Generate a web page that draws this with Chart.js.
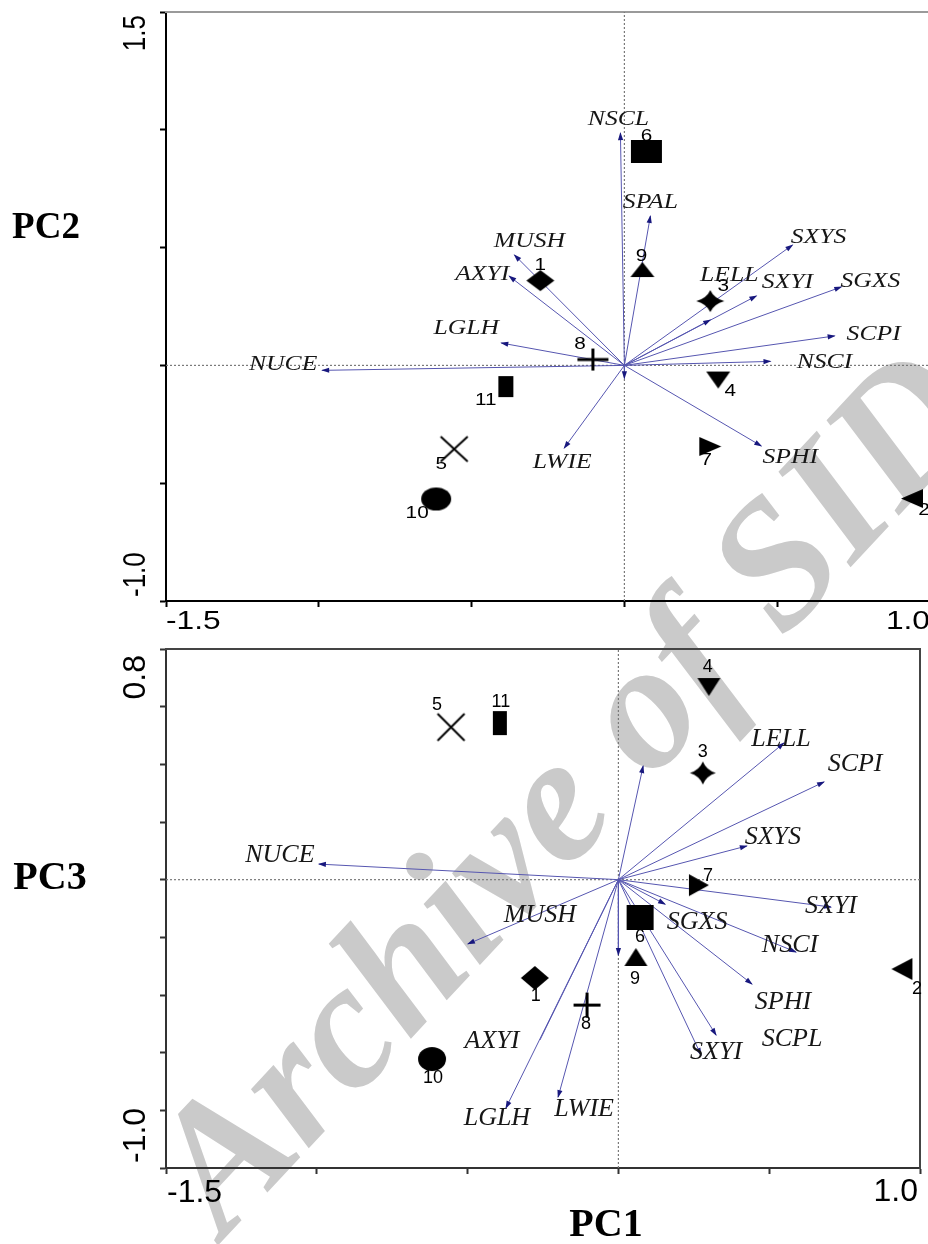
<!DOCTYPE html>
<html>
<head>
<meta charset="utf-8">
<script src="https://cdn.jsdelivr.net/npm/chart.js@4.4.1/dist/chart.umd.min.js"></script>
<style>
html, body { margin: 0; padding: 0; background: #fff; overflow: hidden; }
body { width: 928px; height: 1244px; position: relative; }
#mark { position: absolute; left: 562px; top: 788px; transform: translate(-50%, -50%) rotate(-47deg);
  font: bold italic 180px "Liberation Serif"; color: #cacaca; white-space: nowrap; z-index: 0; }
canvas { position: absolute; left: 0; z-index: 1; }
#top { top: 0; }
#bot { top: 630px; }
.pc { position: absolute; z-index: 2; transform: translate(-50%, -50%); font-family: "Liberation Serif"; font-weight: bold; color: #000; }
</style>
</head>
<body>
<div id="mark">Archive of SID</div>
<canvas id="top" width="940" height="630"></canvas>
<canvas id="bot" width="928" height="600"></canvas>
<div class="pc" style="left:46px;top:225px;font-size:37px;">PC2</div>
<div class="pc" style="left:50px;top:875px;font-size:40px;">PC3</div>
<div class="pc" style="left:606px;top:1222px;font-size:40px;">PC1</div>
<script>
// axis ranges
const pc1Range = [-1.5, 1.0];
const pc2Range = [-1.0, 1.5];
const pc3Range = [-1.0, 0.8];

// objects 1..11
const objIds = ['1', '2', '3', '4', '5', '6', '7', '8', '9', '10', '11'];
const objPC1top = [-0.275, 0.941, 0.281, 0.307, -0.557, 0.072, 0.281, -0.103, 0.059, -0.616, -0.388];
const objPC2 = [0.360, -0.565, 0.273, -0.062, -0.355, 0.908, -0.344, 0.025, 0.407, -0.567, -0.090];
const objPC1bot = [-0.277, 0.940, 0.280, 0.300, -0.555, 0.072, 0.267, -0.104, 0.058, -0.618, -0.393];
const objPC3 = [-0.341, -0.310, 0.370, 0.668, 0.529, -0.131, -0.019, -0.435, -0.268, -0.622, 0.543];

// variable vectors, PC1 x PC2
const varTop = ['NSCL', 'SPAL', 'MUSH', 'AXYI', 'SXYS', 'LELL', 'SXYI', 'SGXS', 'SCPI', 'NSCI', 'SPHI', 'LWIE', 'LGLH', 'NUCE', ''];
const varTopPC1 = [-0.013, 0.085, -0.360, -0.377, 0.550, 0.281, 0.432, 0.710, 0.688, 0.478, 0.448, -0.197, -0.403, -0.989, 0.0];
const varTopPC2 = [0.986, 0.634, 0.469, 0.379, 0.511, 0.193, 0.295, 0.333, 0.125, 0.017, -0.342, -0.351, 0.095, -0.021, -0.055];

// variable vectors, PC1 x PC3
const varBot = ['NUCE', '', 'LELL', 'SCPI', 'SXYS', 'SXYI', 'SGXS', 'NSCI', 'SPHI', 'SCPL', 'SXYI', '', 'LWIE', 'LGLH', 'MUSH', 'AXYI'];
const varBotPC1 = [-0.993, 0.082, 0.549, 0.682, 0.426, 0.705, 0.155, 0.589, 0.443, 0.324, 0.274, 0.0, -0.200, -0.373, -0.499, -0.260];
const varBotPC3 = [0.054, 0.394, 0.474, 0.339, 0.117, -0.095, -0.085, -0.251, -0.362, -0.539, -0.608, -0.261, -0.754, -0.792, -0.223, -0.556];
// AXYI's arrow lies on the LGLH line and shows no head
const varBotHead = [1, 1, 1, 1, 1, 1, 1, 1, 1, 1, 1, 1, 1, 1, 1, 0];

// label placement (px offsets from point / arrow tip)
const objLabTop = [[0, -15], [12, 12], [13, -15], [12, 11], [-13, 15], [0, -15], [-4, 14], [-13, -15], [-1, -13], [-19, 14], [-20, 14]];
const objLabBot = [[1, 18], [15, 20], [0, -21], [-1, -20], [-14, -22], [0, 20], [9, -9], [-1, 19], [-1, 22], [1, 19], [1, -21]];
const varLabTop = [[-2, -14], [0, -14], [15, -13], [-27, -2], [26, -8], [19, -44], [31, -13], [29, -5], [39, -1], [54, 1], [29, 12], [-2, 14], [-35, -15], [-39, -6], [0, 0]];
const varLabBot = [[-39, -9], [0, 0], [-3, -4], [31, -18], [26, -9], [0, -1], [32, 18], [-6, -7], [31, 18], [76, 4], [15, -3], [0, 0], [26, 12], [-9, 10], [72, -29], [-48, 1]];

// marker shapes per object and their sizes in each panel
const objShape = ['diamond', 'left', 'star', 'down', 'x', 'square', 'right', 'plus', 'up', 'circle', 'rect'];
const sizeTop = [[28, 21], [22, 19], [28, 22], [24, 17], [27, 25], [31, 23], [22, 19], [31, 22], [24, 15], [30, 23], [15, 21]];
const sizeBot = [[28, 24], [21, 22], [26, 23], [23, 18], [27, 27], [27, 25], [20, 22], [27, 25], [23, 18], [28, 24], [14, 24]];

function marker(kind, w, h) {
  const c = document.createElement('canvas');
  c.width = w + 4; c.height = h + 4;
  const g = c.getContext('2d');
  g.translate(2, 2);
  g.fillStyle = '#000'; g.strokeStyle = '#000';
  g.beginPath();
  if (kind === 'square' || kind === 'rect') g.rect(0, 0, w, h);
  else if (kind === 'up') { g.moveTo(w / 2, 0); g.lineTo(w, h); g.lineTo(0, h); }
  else if (kind === 'down') { g.moveTo(0, 0); g.lineTo(w, 0); g.lineTo(w / 2, h); }
  else if (kind === 'left') { g.moveTo(0, h / 2); g.lineTo(w, 0); g.lineTo(w, h); }
  else if (kind === 'right') { g.moveTo(0, 0); g.lineTo(w, h / 2); g.lineTo(0, h); }
  else if (kind === 'diamond') { g.moveTo(w / 2, 0); g.lineTo(w, h / 2); g.lineTo(w / 2, h); g.lineTo(0, h / 2); }
  else if (kind === 'circle') g.ellipse(w / 2, h / 2, w / 2, h / 2, 0, 0, Math.PI * 2);
  else if (kind === 'star') {
    const cx = w / 2, cy = h / 2, kx = w * 0.13, ky = h * 0.13;
    g.moveTo(cx, 0);
    g.quadraticCurveTo(cx + kx, cy - ky, w, cy);
    g.quadraticCurveTo(cx + kx, cy + ky, cx, h);
    g.quadraticCurveTo(cx - kx, cy + ky, 0, cy);
    g.quadraticCurveTo(cx - kx, cy - ky, cx, 0);
  }
  if (kind === 'plus') {
    g.lineWidth = 3;
    g.moveTo(w / 2, 0); g.lineTo(w / 2, h); g.moveTo(0, h / 2); g.lineTo(w, h / 2); g.stroke();
  } else if (kind === 'x') {
    g.lineWidth = 2;
    g.moveTo(0, 0); g.lineTo(w, h); g.moveTo(w, 0); g.lineTo(0, h); g.stroke();
  } else { g.closePath(); g.fill(); }
  return c;
}

function drawText(ctx, s, x, y, font, sx, align, rot) {
  ctx.save();
  ctx.translate(x, y);
  ctx.scale(sx, 1);
  if (rot) ctx.rotate(rot);
  ctx.font = font;
  ctx.textAlign = align || 'center';
  ctx.textBaseline = 'middle';
  ctx.fillText(s, 0, 0);
  ctx.restore();
}

function decor(o) {
  return {
    id: 'decor',
    afterDatasetsDraw(chart) {
      const ctx = chart.ctx, a = chart.chartArea;
      ctx.save();
      chart.data.datasets.forEach((ds, i) => {
        const pts = chart.getDatasetMeta(i).data;
        if (ds.isArrow) {
          const p0 = pts[0], p1 = pts[1];
          if (ds.head) {
            const ang = Math.atan2(p1.y - p0.y, p1.x - p0.x);
            ctx.save();
            ctx.translate(p1.x, p1.y); ctx.rotate(ang);
            ctx.fillStyle = '#18187e';
            ctx.beginPath(); ctx.moveTo(1, 0); ctx.lineTo(-7, -2.6); ctx.lineTo(-7, 2.6); ctx.closePath(); ctx.fill();
            ctx.restore();
          }
          if (ds.label) {
            ctx.fillStyle = '#161616';
            drawText(ctx, ds.label, p1.x + ds.lab[0], p1.y + ds.lab[1], o.varFont, o.sx);
          }
        } else if (ds.isObj) {
          ctx.fillStyle = '#000';
          pts.forEach((p, k) => drawText(ctx, objIds[k], p.x + ds.labs[k][0], p.y + ds.labs[k][1], o.numFont, o.sx));
        }
      });
      // axis end values
      const xs = chart.scales.x, ys = chart.scales.y;
      ctx.fillStyle = '#000';
      drawText(ctx, xs.min.toFixed(1), a.left + o.xl[0], a.bottom + o.xl[1], o.tickFont, o.sx, 'left');
      drawText(ctx, xs.max.toFixed(1), a.right + o.xr[0], a.bottom + o.xr[1], o.tickFont, o.sx, 'right');
      drawText(ctx, ys.max.toFixed(1), a.left + o.yt[0], a.top + o.yt[1], o.tickFont, o.sx, 'right', -Math.PI / 2);
      drawText(ctx, ys.min.toFixed(1), a.left + o.yb[0], a.bottom + o.yb[1], o.tickFont, o.sx, 'left', -Math.PI / 2);
      ctx.restore();
    }
  };
}

function buildChart(id, p) {
  const datasets = [];
  datasets.push({
    isObj: true, labs: p.objLabs,
    data: p.objX.map((x, i) => ({ x: x, y: p.objY[i] })),
    pointStyle: c => p.markers[c.dataIndex], pointRadius: 5, order: 0
  });
  p.varNames.forEach((n, i) => datasets.push({
    label: n, isArrow: true, lab: p.varLabs[i], head: p.varHead ? p.varHead[i] : 1,
    data: [{ x: 0, y: 0 }, { x: p.varX[i], y: p.varY[i] }],
    showLine: true, borderColor: '#5656b0', borderWidth: 1, pointRadius: 0, order: 1
  }));
  const zeroStyle = { showLine: true, borderColor: '#7a7a7a', borderWidth: 1.2, borderDash: [2, 2], pointRadius: 0, order: 2 };
  datasets.push(Object.assign({ data: [{ x: pc1Range[0], y: 0 }, { x: pc1Range[1], y: 0 }] }, zeroStyle));
  datasets.push(Object.assign({ data: [{ x: 0, y: p.yRange[0] }, { x: 0, y: p.yRange[1] }] }, zeroStyle));

  const axis = (pos, col) => ({
    position: pos, display: true,
    ticks: { display: false },
    grid: { drawOnChartArea: false, drawTicks: false },
    border: { display: true, color: col, width: 2 }
  });
  const scales = {
    x: {
      type: 'linear', position: 'bottom', min: pc1Range[0], max: pc1Range[1],
      ticks: { display: false, stepSize: 0.5 },
      grid: { drawOnChartArea: false, drawTicks: true, tickLength: 6, tickColor: p.axisCol, tickWidth: 2 },
      border: { color: p.axisCol, width: 2 }
    },
    y: {
      type: 'linear', position: 'left', min: p.yRange[0], max: p.yRange[1],
      ticks: { display: false, stepSize: p.yStep },
      grid: { drawOnChartArea: false, drawTicks: true, tickLength: 6, tickColor: p.axisCol, tickWidth: 2 },
      border: { color: p.axisCol, width: 2 }
    },
    x2: axis('top', p.topCol)
  };
  if (p.rightCol) scales.y2 = axis('right', p.rightCol);

  return new Chart(document.getElementById(id), {
    type: 'scatter',
    data: { datasets: datasets },
    options: {
      responsive: false, animation: false,
      layout: { padding: p.padding },
      plugins: { legend: { display: false }, tooltip: { enabled: false } },
      scales: scales
    },
    plugins: [decor(p.decor)]
  });
}

buildChart('top', {
  objX: objPC1top, objY: objPC2, objLabs: objLabTop,
  markers: objShape.map((s, i) => marker(s, sizeTop[i][0], sizeTop[i][1])),
  varNames: varTop, varX: varTopPC1, varY: varTopPC2, varLabs: varLabTop,
  yRange: pc2Range, yStep: 0.5,
  axisCol: '#000', topCol: '#9a9a9a',
  padding: { left: 160, right: 10, top: 12, bottom: 23 },
  decor: {
    sx: 1.22, varFont: 'italic 21px "Liberation Serif"', numFont: '17px "Liberation Sans"',
    tickFont: '26px "Liberation Sans"',
    xl: [0, 21], xr: [0, 21], yt: [-30, 3], yb: [-30, -4]
  }
});

buildChart('bot', {
  objX: objPC1bot, objY: objPC3, objLabs: objLabBot,
  markers: objShape.map((s, i) => marker(s, sizeBot[i][0], sizeBot[i][1])),
  varNames: varBot, varX: varBotPC1, varY: varBotPC3, varLabs: varLabBot, varHead: varBotHead,
  yRange: pc3Range, yStep: 0.2,
  axisCol: '#333', topCol: '#444', rightCol: '#444',
  padding: { left: 160, right: 8, top: 19, bottom: 56 },
  decor: {
    sx: 1.0, varFont: 'italic 26px "Liberation Serif"', numFont: '18px "Liberation Sans"',
    tickFont: '32px "Liberation Sans"',
    xl: [1, 25], xr: [-2, 24], yt: [-30, 6], yb: [-30, -5]
  }
});
</script>
</body>
</html>
